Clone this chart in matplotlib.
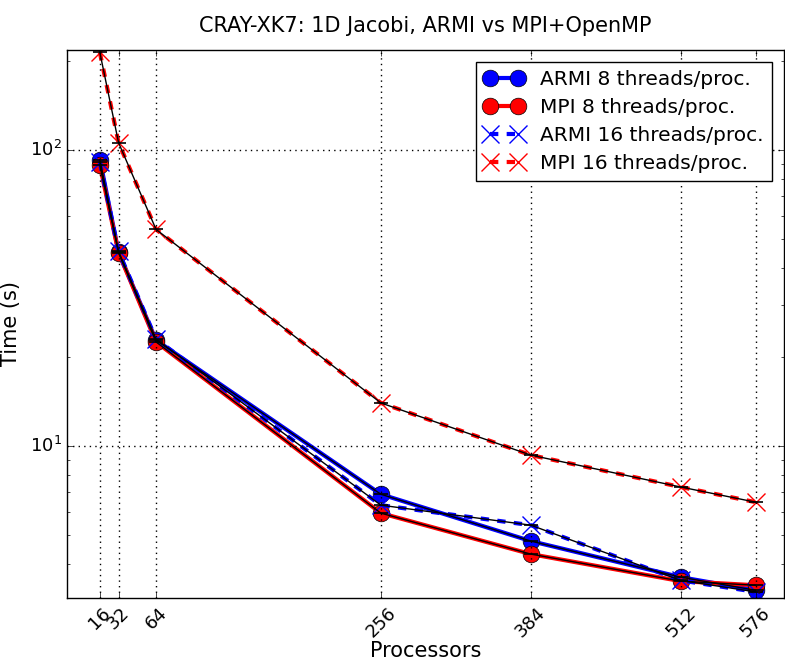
import matplotlib
matplotlib.use('Agg')
import matplotlib.pyplot as plt

# processor counts and timings (seconds)
procs = [16, 32, 64, 256, 384, 512, 576]
armi_8 = [93.0, 45.2, 22.8, 6.88, 4.78, 3.61, 3.26]
mpi_8 = [89.0, 45.0, 22.5, 5.94, 4.32, 3.50, 3.39]
armi_16 = [91.0, 45.5, 23.0, 6.32, 5.41, 3.52, 3.22]
mpi_16 = [214.0, 106.0, 54.0, 14.0, 9.33, 7.28, 6.47]

plt.style.use('classic')
plt.rcParams['font.family'] = ['DejaVu Sans']

fig = plt.figure(figsize=(7.85, 6.64), dpi=100, facecolor='white')
ax = fig.add_axes([0.0854, 0.0994, 0.913, 0.8253])

ax.plot(procs, armi_8, 'o-', color='blue', lw=3, ms=12, mec='black',
        label='ARMI 8 threads/proc.')
ax.plot(procs, mpi_8, 'o-', color='red', lw=3, ms=12, mec='black',
        label='MPI 8 threads/proc.')
ax.plot(procs, armi_16, 'x--', color='blue', lw=3, ms=13, mew=1,
        label='ARMI 16 threads/proc.')
ax.plot(procs, mpi_16, 'x--', color='red', lw=3, ms=13, mew=1,
        label='MPI 16 threads/proc.')

# thin black overlay lines (as in the original errorbar plot)
for series in (armi_8, mpi_8, armi_16, mpi_16):
    ax.plot(procs, series, '_-', color='black', lw=1, ms=10, mew=1.2)

ax.set_yscale('log')
ax.set_xlim(-12, 600)
ax.set_ylim(3.07, 218)
ax.set_xticks(procs)
ax.set_xticklabels([str(p) for p in procs], rotation=45, fontsize=13)
ax.tick_params(axis='y', labelsize=13)
ax.grid(True, which='major', color='black', linestyle=':', lw=1)

ax.set_xlabel('Processors', fontsize=15, labelpad=0)
ax.set_ylabel('Time (s)', fontsize=15, labelpad=6)
ax.set_title('CRAY-XK7: 1D Jacobi, ARMI vs MPI+OpenMP', fontsize=15, y=1.02)

ax.legend(loc='upper right', numpoints=2, fontsize=14.5, handlelength=2,
          borderaxespad=0.6, labelspacing=0.45, handletextpad=0.8,
          borderpad=0.4)

fig.savefig('out.png', dpi=100, facecolor='white')
